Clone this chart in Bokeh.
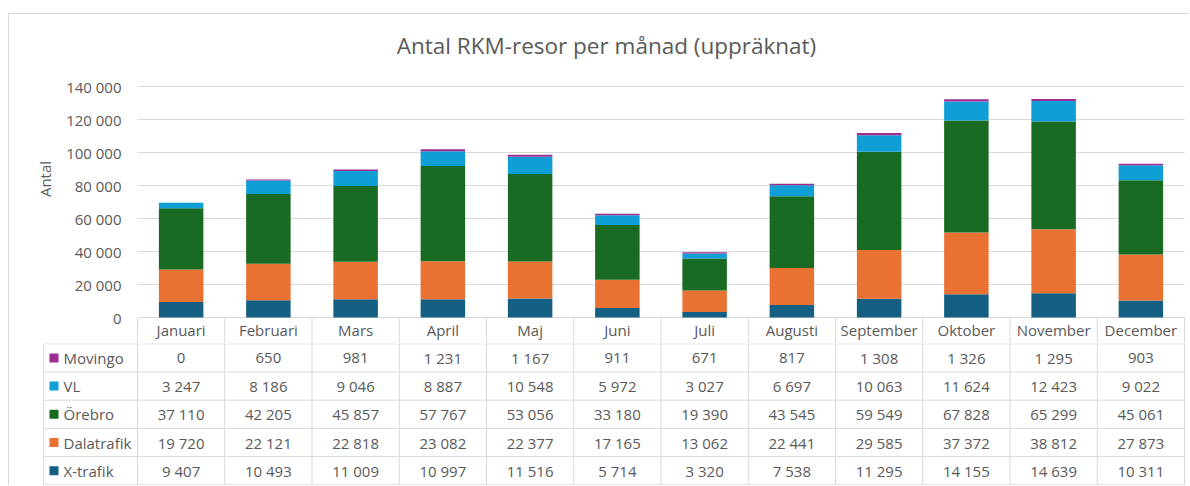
from bokeh.plotting import figure
from bokeh.models import Range1d, FixedTicker, CustomJSTickFormatter, Label, ColumnDataSource
from bokeh.layouts import column
from bokeh.embed import file_html
from bokeh.resources import INLINE
from bokeh.core.properties import value

# ---------------- data ----------------
months = ["Januari", "Februari", "Mars", "April", "Maj", "Juni", "Juli",
          "Augusti", "September", "Oktober", "November", "December"]
series_names = ["X-trafik", "Dalatrafik", "Örebro", "VL", "Movingo"]  # bottom -> top
x_trafik = [9407, 10493, 11009, 10997, 11516, 5714, 3320, 7538, 11295, 14155, 14639, 10311]
dalatrafik = [19720, 22121, 22818, 23082, 22377, 17165, 13062, 22441, 29585, 37372, 38812, 27873]
orebro = [37110, 42205, 45857, 57767, 53056, 33180, 19390, 43545, 59549, 67828, 65299, 45061]
vl = [3247, 8186, 9046, 8887, 10548, 5972, 3027, 6697, 10063, 11624, 12423, 9022]
movingo = [0, 650, 981, 1231, 1167, 911, 671, 817, 1308, 1326, 1295, 903]
y_ticks = [0, 20000, 40000, 60000, 80000, 100000, 120000, 140000]
title_text = "Antal RKM-resor per månad (uppräknat)"
y_label = "Antal"

# ---------------- style ----------------
FONT = "Open Sans"
TXT = "#595959"
GRID = "#d9d9d9"
colors = ["#156082", "#E97132", "#196B24", "#0F9ED5", "#A02B93"]
keys = ["xt", "dt", "ob", "vl", "mv"]
series_vals = [x_trafik, dalatrafik, orebro, vl, movingo]

PAGE_L, PAGE_T = 8, 13          # outer border position
X0 = PAGE_L + 1                 # figures start after 1px border
W = 1180
n = len(months)
CAT_L, CAT_R = 137, 1184        # pixel span of the 12 month columns
ppu = (CAT_R - CAT_L) / n       # pixels per category
F_L, F_R = 10, 1186             # frame span (both figures)
LEG_L = 43                      # left edge of table legend column
legend_w = (CAT_L - LEG_L) / ppu
x_range = Range1d(-(CAT_L - F_L) / ppu, n + (F_R - CAT_R) / ppu)

def fmt(v):
    return f"{v:,}".replace(",", " ")

# ---------------- top chart (+ header row) ----------------
TOP_H = 329
FIG_T = PAGE_T + 1
Y0_PX = 317 - FIG_T             # y=0 position inside figure
YMAX_PX = 86 - FIG_T            # y=140000 position inside figure
upp = y_ticks[-1] / (Y0_PX - YMAX_PX)   # data units per pixel
y_end = y_ticks[-1] + YMAX_PX * upp
y_start = -(TOP_H - Y0_PX) * upp

p = figure(width=W, height=TOP_H, x_range=x_range, y_range=Range1d(y_start, y_end),
           output_backend="svg", toolbar_location=None,
           min_border_left=F_L - X0, min_border_right=W - (F_R - X0),
           min_border_top=0, min_border_bottom=0)
p.outline_line_color = None
p.grid.visible = False

# gridlines, only across the month columns
p.segment(x0=[0] * len(y_ticks), y0=y_ticks, x1=[n] * len(y_ticks), y1=y_ticks,
          line_color=GRID, line_width=1)
# header row separators
sep = list(range(n + 1))
p.segment(x0=sep, y0=[0] * len(sep), x1=sep, y1=[y_start] * len(sep),
          line_color=GRID, line_width=1)

src = ColumnDataSource(dict(x=[i + 0.5 for i in range(n)],
                            **{k: v for k, v in zip(keys, series_vals)}))
p.vbar_stack(keys, x="x", width=0.51, color=colors, line_color=None, source=src)

# y axis, pinned to the left edge of the month columns
yax = p.yaxis[0]
yax.fixed_location = 0
yax.ticker = FixedTicker(ticks=y_ticks)
yax.formatter = CustomJSTickFormatter(
    code="return tick.toFixed(0).replace(/\\B(?=(\\d{3})+(?!\\d))/g, ' ');")
yax.axis_line_color = None
yax.major_tick_line_color = None
yax.minor_tick_line_color = None
yax.major_tick_out = 0
yax.major_tick_in = 0
yax.minor_tick_out = 0
yax.minor_tick_in = 0
yax.major_label_standoff = 16
yax.major_label_text_font = FONT
yax.major_label_text_font_size = "15px"
yax.major_label_text_color = TXT
yax.axis_label = y_label
yax.axis_label_text_font = FONT
yax.axis_label_text_font_size = "15px"
yax.axis_label_text_font_style = "normal"
yax.axis_label_text_color = TXT
yax.axis_label_standoff = 8

# x axis = header row of the data table
xax = p.xaxis[0]
xax.fixed_location = 0
xax.ticker = FixedTicker(ticks=[i + 0.5 for i in range(n)])
xax.formatter = CustomJSTickFormatter(args=dict(months=months),
                                      code="return months[Math.floor(tick)] || '';")
xax.axis_line_color = None
xax.major_tick_line_color = None
xax.minor_tick_line_color = None
xax.major_tick_out = 0
xax.major_tick_in = 0
xax.minor_tick_out = 0
xax.minor_tick_in = 0
xax.major_label_standoff = 2
xax.major_label_text_font = FONT
xax.major_label_text_font_size = "15px"
xax.major_label_text_color = TXT

# title (screen units are measured from the frame's bottom-left corner)
p.add_layout(Label(x=606 - F_L, y=TOP_H - (45 - FIG_T), x_units="screen", y_units="screen",
                   text=title_text, text_align="center", text_baseline="middle",
                   text_font=FONT, text_font_size="22.5px", text_color=TXT))

# ---------------- data table ----------------
TAB_H = 142
row_h = 28.2
n_rows = len(series_names)
t = figure(width=W, height=TAB_H, x_range=x_range,
           y_range=Range1d(n_rows + (TAB_H - 0.3 - n_rows * row_h) / row_h, -0.3 / row_h),
           output_backend="svg", toolbar_location=None,
           min_border_left=F_L - X0, min_border_right=W - (F_R - X0),
           min_border_top=0, min_border_bottom=0)
t.axis.visible = False
t.grid.visible = False
t.outline_line_color = None

# cell borders
hy = list(range(n_rows + 1))
t.segment(x0=[-legend_w] * len(hy), y0=hy, x1=[n] * len(hy), y1=hy, line_color=GRID, line_width=1)
vx = [-legend_w] + list(range(n + 1))
t.segment(x0=vx, y0=[0] * len(vx), x1=vx, y1=[n_rows] * len(vx), line_color=GRID, line_width=1)

# rows, top -> bottom
rows = list(reversed(list(zip(series_names, series_vals, colors))))
sq_x, sq_y, sq_c, nm_x, nm_y, nm_t = [], [], [], [], [], []
vx_, vy_, vt_ = [], [], []
for r, (name, vals, col) in enumerate(rows):
    sq_x.append(-legend_w + (53.5 - LEG_L) / ppu)
    sq_y.append(r + 0.5)
    sq_c.append(col)
    nm_x.append(-legend_w + (63 - LEG_L) / ppu)
    nm_y.append(r + 0.5)
    nm_t.append(name)
    for i, v in enumerate(vals):
        vx_.append(i + 0.5)
        vy_.append(r + 0.5)
        vt_.append(fmt(v))

t.scatter(x=sq_x, y=sq_y, marker="square", size=9, color=sq_c, line_color=None)
t.text(x=nm_x, y=nm_y, text=nm_t, text_align="left", text_baseline="middle",
       text_font=value(FONT), text_font_size="15px", text_color=TXT)
t.text(x=vx_, y=vy_, text=vt_, text_align="center", text_baseline="middle",
       text_font=value(FONT), text_font_size="15px", text_color=TXT)

layout = column(p, t, spacing=0,
                styles={"border-top": "1px solid #d9d9d9", "border-left": "1px solid #d9d9d9",
                        "margin-top": f"{PAGE_T}px", "margin-left": f"{PAGE_L}px"})

open("out.html", "w").write(file_html(layout, INLINE))
